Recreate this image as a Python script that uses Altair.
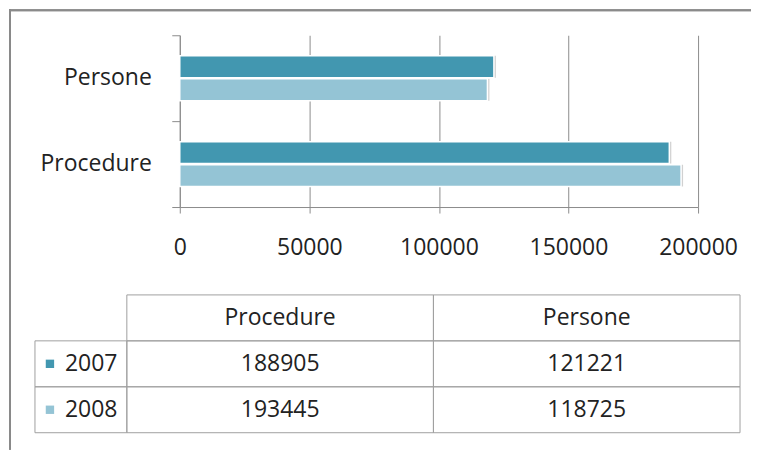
import altair as alt
import pandas as pd

categories = ["Procedure", "Persone"]
years = ["2007", "2008"]
values_2007 = [188905, 121221]
values_2008 = [193445, 118725]
x_ticks = [0, 50000, 100000, 150000, 200000]
colors = ["#4297B0", "#94C4D5"]

FONT = "Open Sans"
FS = 23
TXT = "#222222"
LINE = "#8c8c8c"
TLINE = "#a0a0a0"

rows = []
for i, c in enumerate(categories):
    rows.append({"cat": c, "year": years[0], "value": values_2007[i]})
    rows.append({"cat": c, "year": years[1], "value": values_2008[i]})
df = pd.DataFrame(rows)

color_scale = alt.Scale(domain=years, range=colors)
y_order = ["Persone", "Procedure"]
ycat_scale = alt.Scale(domain=y_order, paddingInner=0, paddingOuter=0)

enc = dict(
    y=alt.Y("cat:N", sort=y_order, scale=ycat_scale,
            axis=alt.Axis(title=None, tickBand="extent", tickSize=8, labels=False,
                          domainColor=LINE, tickColor=LINE, grid=False)),
    yOffset=alt.YOffset("year:N", sort=years,
                        scale=alt.Scale(domain=years, paddingInner=0.05, paddingOuter=0.89)),
    x=alt.X("value:Q", scale=alt.Scale(domain=[0, 200000], nice=False),
            axis=alt.Axis(values=x_ticks, title=None, format="d", tickSize=6, labelPadding=24,
                          labelFlush=False, labelOverlap=False,
                          labelFontSize=FS, labelFont=FONT, labelColor=TXT,
                          domainColor=LINE, tickColor=LINE, grid=True, gridColor=LINE)),
)

bars = alt.Chart(df).mark_bar(stroke="white", strokeWidth=1.5).encode(
    color=alt.Color("year:N", scale=color_scale, legend=None), **enc)
shadow = alt.Chart(df).mark_bar(color="#000000", opacity=0.18, xOffset=2, yOffset=3).encode(**enc)
barpanel = alt.layer(shadow, bars).properties(width=519, height=172)

labdf = pd.DataFrame({"cat": categories})
labels = alt.Chart(labdf).mark_text(font=FONT, fontSize=FS, color=TXT, align="right").encode(
    y=alt.Y("cat:N", sort=y_order, scale=ycat_scale, axis=None),
    x=alt.value(117), text="cat:N",
)
# outer frame of the chart area (left and top edges)
frame_left = alt.Chart(labdf).mark_rule(color="#8a8a8a", strokeWidth=2).encode(
    x=alt.value(-25), y=alt.value(-26), y2=alt.value(415))
frame_top = alt.Chart(labdf).mark_rule(color="#8a8a8a", strokeWidth=2).encode(
    x=alt.value(-26), x2=alt.value(717), y=alt.value(-25))
labpanel = alt.layer(frame_left, frame_top, labels).properties(width=145, height=172)

top = alt.hconcat(labpanel, barpanel, spacing=0, bounds="flush").resolve_scale(
    y="independent", x="independent", color="independent")

# table
table_rows = ["header"] + years
trows = []
for i, c in enumerate(categories):
    trows.append({"row": "header", "cat": c, "label": c})
    trows.append({"row": years[0], "cat": c, "label": str(values_2007[i])})
    trows.append({"row": years[1], "cat": c, "label": str(values_2008[i])})
tdf = pd.DataFrame(trows)

yrow = alt.Y("row:N", sort=table_rows,
             scale=alt.Scale(domain=table_rows, paddingInner=0, paddingOuter=0), axis=None)

rbase = alt.Chart(tdf).encode(
    x=alt.X("cat:N", sort=categories,
            scale=alt.Scale(domain=categories, paddingInner=0, paddingOuter=0), axis=None),
    y=yrow)
right = alt.layer(
    rbase.mark_rect(fill="white", fillOpacity=0, stroke=TLINE, strokeWidth=1),
    rbase.mark_text(font=FONT, fontSize=FS, color=TXT).encode(text="label:N"),
).properties(width=614, height=138)

ldf = pd.DataFrame({"row": years, "label": years})
lbase = alt.Chart(ldf).encode(y=yrow)
left = alt.layer(
    lbase.mark_rect(fill="white", fillOpacity=0, stroke=TLINE, strokeWidth=1).encode(
        x=alt.value(0), x2=alt.value(92)),
    lbase.mark_square(size=70, opacity=1).encode(
        x=alt.value(15), color=alt.Color("row:N", scale=color_scale, legend=None)),
    lbase.mark_text(font=FONT, fontSize=FS, color=TXT, align="left").encode(
        x=alt.value(30), text="label:N"),
).properties(width=92, height=138)

bottom = alt.hconcat(left, right, spacing=0, bounds="flush").resolve_scale(
    x="independent", y="independent", color="independent")

chart = alt.vconcat(top, bottom, spacing=260, bounds="flush").resolve_scale(
    x="independent", y="independent", color="independent"
).properties(
    padding={"left": 0, "top": 0, "right": 0, "bottom": 0}
).configure_view(stroke=None)

chart.save("out.html", embed_options={"renderer": "svg", "actions": False})
